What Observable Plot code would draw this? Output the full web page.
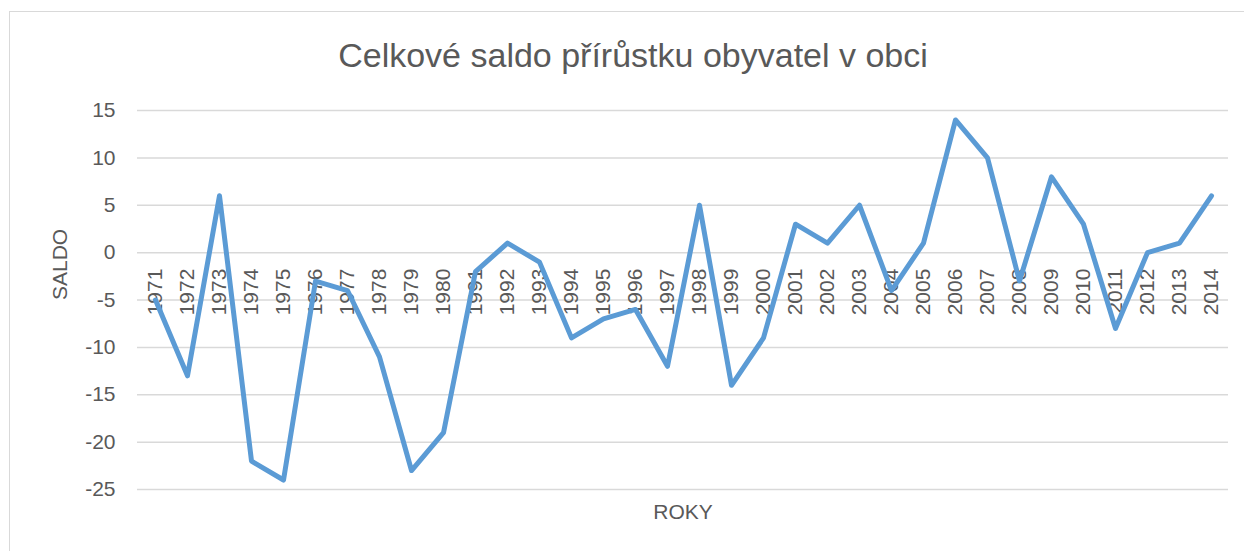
<!DOCTYPE html>
<html>
<head>
<meta charset="utf-8">
<script src="https://cdn.jsdelivr.net/npm/d3@7"></script>
<script src="https://cdn.jsdelivr.net/npm/@observablehq/plot@0.6"></script>
<style>
  html, body { margin: 0; padding: 0; background: #fff; }
  #wrap { position: relative; width: 1244px; height: 551px; overflow: hidden; font-family: "Liberation Sans", Arial, sans-serif; }
  #frame { position: absolute; left: 9px; top: 11px; width: 1300px; height: 600px; border: 1.5px solid #D9D9D9; box-sizing: border-box; }
  #title { position: absolute; left: 0; width: 1266px; top: 38px; line-height: 1; text-align: center; font-size: 34px; color: #595959; white-space: nowrap; }
  #chart { position: absolute; left: 0; top: 0; }
</style>
</head>
<body>
<div id="wrap">
  <div id="frame"></div>
  <div id="title">Celkové saldo přírůstku obyvatel v obci</div>
  <div id="chart"></div>
</div>
<script>
const years = ["1971","1972","1973","1974","1975","1976","1977","1978","1979","1980",
  "1991","1992","1993","1994","1995","1996","1997","1998","1999","2000",
  "2001","2002","2003","2004","2005","2006","2007","2008","2009","2010",
  "2011","2012","2013","2014"];
const saldo = [-5,-13,6,-22,-24,-3,-4,-11,-23,-19,
  -2,1,-1,-9,-7,-6,-12,5,-14,-9,
  3,1,5,-4,1,14,10,-3,8,3,
  -8,0,1,6];
const yTicks = [15,10,5,0,-5,-10,-15,-20,-25];
const xLabel = "ROKY";
const yLabel = "SALDO";

const data = years.map((y, i) => ({year: y, value: saldo[i]}));

const chart = Plot.plot({
  width: 1244,
  height: 551,
  marginLeft: 137,
  marginRight: 16,
  marginTop: 110,
  marginBottom: 62,
  style: {background: "transparent", fontFamily: "Liberation Sans, Arial, sans-serif"},
  x: {type: "point", domain: years, padding: 0.5, axis: null},
  y: {domain: [-25, 15], label: null},
  marks: [
    Plot.ruleY(yTicks, {stroke: "#D9D9D9", strokeWidth: 1.5}),
    Plot.axisY({ticks: yTicks, tickSize: 0, tickPadding: 22, fontSize: 21, fill: "#595959", label: null,
      tickFormat: d => d < 0 ? "-" + Math.abs(d) : String(d)}),
    Plot.text(years, {x: d => d, y: () => 0, dy: 16, rotate: -90, textAnchor: "end", lineAnchor: "middle",
      fontSize: 21, fill: "#595959", text: d => d}),
    Plot.text([yLabel], {frameAnchor: "left", dx: -77, rotate: -90, fontSize: 21, fill: "#595959", text: d => d}),
    Plot.text([xLabel], {frameAnchor: "bottom", dy: 29, fontSize: 21, fill: "#595959", text: d => d}),
    Plot.line(data, {x: "year", y: "value", stroke: "#5B9BD5", strokeWidth: 5, strokeLinejoin: "round", strokeLinecap: "round"})
  ]
});
document.getElementById("chart").appendChild(chart);
</script>
</body>
</html>
